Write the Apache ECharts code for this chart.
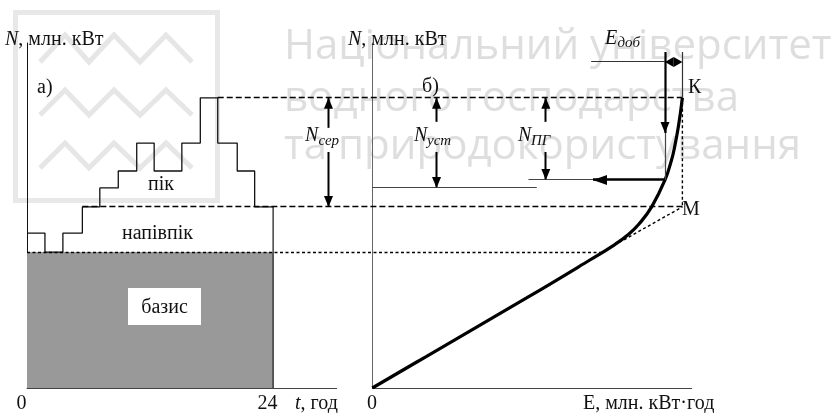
<!DOCTYPE html>
<html>
<head>
<meta charset="utf-8">
<script src="https://cdn.jsdelivr.net/npm/echarts@6/dist/echarts.min.js"></script>
<style>
html, body { margin: 0; padding: 0; background: #fff; }
#c { width: 839px; height: 413px; }
</style>
</head>
<body>
<div id="c"></div>
<script>
// ---- a) daily load schedule: interval boundaries (hours) and power in each interval
const loadHours  = [0, 1.75, 3.5, 5.4, 7.1, 8.9, 10.7, 12.4, 15.1, 16.9, 18.6, 20.5, 22.2, 24];
const loadLevels = [44.9, 39.4, 44.9, 52.5, 58.0, 62.9, 71.0, 62.9, 71.0, 84.1, 71.0, 62.9, 52.5];
const baseLevel = 39.4;      // top of the base zone
const halfPeakLevel = 52.5;  // top of the half-peak zone
const peakLevel = 84.1;      // daily maximum
const dayEnd = 24;
const hourTicks = ['0', '24'];

// ---- б) integral curve of the load: energy E versus power N
const curveE = [0, 17.5, 49.7, 70.1, 78.0, 82.5, 86.0, 90.0, 94.3, 96.4, 97.2, 98.6, 99.9];
const curveN = [0, 9.2, 26.1, 37.1, 41.5, 44.5, 47.6, 52.5, 60.3, 66.1, 69.0, 75.7, 84.1];
const tangentE = [78.0, 99.9];
const tangentN = [41.4, 52.5];
const energyTicks = ['0'];

// ---- capacities and energies marked on panel б)
const ustLevel = 58.0;     // N уст
const pgLevel = 60.3;      // N ПГ
const edobLevel = 94.5;    // height of the E доб dimension line
const guideTop = 97.4;     // upper end of the guide lines
const edobLineStartE = 70.5;
const pgLineStartE = 50.3;
const pgArrowTipE = 71.1;
const pgDownTipN = 73.9;
const ustLineEndE = 53.0;
const serAxisT = 29.4;     // position of the N сер dimension
const ustAxisE = 20.7;
const pgAxisE = 55.9;

const SERIF = '"Liberation Serif", "Times New Roman", serif';
const SANS = '"Open Sans", "DejaVu Sans", sans-serif';
const INK = '#000';
const FS = 20;   // main caption size
const SUB = 15;  // subscript size

function curveAt(n) {
  for (let i = 1; i < curveN.length; i++) {
    if (n <= curveN[i]) {
      const k = (n - curveN[i - 1]) / (curveN[i] - curveN[i - 1]);
      return curveE[i - 1] + k * (curveE[i] - curveE[i - 1]);
    }
  }
  return curveE[curveE.length - 1];
}

const stepData = loadLevels.map((v, i) => [loadHours[i], v]);
stepData.push([loadHours[loadHours.length - 1], loadLevels[loadLevels.length - 1]]);
const curveData = curveE.map((e, i) => [e, curveN[i]]);
const kE = curveE[curveE.length - 1];

const chart = echarts.init(document.getElementById('c'));

const hiddenAxisParts = {
  axisTick: { show: false }, axisLabel: { show: false }, splitLine: { show: false }
};

chart.setOption({
  animation: false,
  backgroundColor: '#fff',
  grid: [
    { left: 27, top: 43, width: 309.7, height: 345 },
    { left: 372.3, top: 43, width: 319.4, height: 345 }
  ],
  xAxis: [
    Object.assign({ type: 'value', gridIndex: 0, min: 0, max: 30.2,
      axisLine: { onZero: false, lineStyle: { color: '#444', width: 1 } } }, hiddenAxisParts),
    Object.assign({ type: 'value', gridIndex: 1, min: 0, max: 102.9,
      axisLine: { onZero: false, lineStyle: { color: '#444', width: 1 } } }, hiddenAxisParts)
  ],
  yAxis: [
    Object.assign({ type: 'value', gridIndex: 0, min: 0, max: 100,
      axisLine: { show: true, onZero: false, lineStyle: { color: '#111', width: 1 } } }, hiddenAxisParts),
    Object.assign({ type: 'value', gridIndex: 1, min: 0, max: 100,
      axisLine: { show: true, onZero: false, lineStyle: { color: '#666', width: 1 } } }, hiddenAxisParts)
  ],
  series: [
    { // base zone
      type: 'line', xAxisIndex: 0, yAxisIndex: 0, symbol: 'none', silent: true,
      data: [[0, baseLevel], [dayEnd, baseLevel]],
      lineStyle: { width: 0 },
      areaStyle: { color: '#999999', opacity: 1 }
    },
    { // end of the day
      type: 'line', xAxisIndex: 0, yAxisIndex: 0, symbol: 'none', silent: true,
      data: [[dayEnd, 0], [dayEnd, halfPeakLevel]],
      lineStyle: { color: '#222', width: 1.3 }
    },
    { // stepped load schedule
      type: 'line', step: 'end', xAxisIndex: 0, yAxisIndex: 0, symbol: 'none', silent: true,
      data: stepData,
      lineStyle: { color: '#111', width: 1.3 }
    },
    { // integral curve
      type: 'line', xAxisIndex: 1, yAxisIndex: 1, symbol: 'none', silent: true,
      data: curveData, smooth: 0.45,
      lineStyle: { color: '#000', width: 3.2 }, z: 5
    },
    { // straight continuation of the lower part of the curve up to M
      type: 'line', xAxisIndex: 1, yAxisIndex: 1, symbol: 'none', silent: true,
      data: tangentE.map((e, i) => [e, tangentN[i]]),
      lineStyle: { color: INK, width: 1.4, type: [3, 2.5] }
    },
    { // K - M
      type: 'line', xAxisIndex: 1, yAxisIndex: 1, symbol: 'none', silent: true,
      data: [[kE, peakLevel], [kE, halfPeakLevel]],
      lineStyle: { color: INK, width: 1.4, type: [3, 2.5] }
    }
  ]
});

const snap = v => Math.round(v - 0.5) + 0.5;
const L = (x, y) => chart.convertToPixel({ gridIndex: 0 }, [x, y]);
const R = (x, y) => chart.convertToPixel({ gridIndex: 1 }, [x, y]);
const els = [];

function line(a, b, st) {
  let [x1, y1] = a, [x2, y2] = b;
  if (Math.abs(y1 - y2) < 0.01) { y1 = y2 = snap(y1); }
  if (Math.abs(x1 - x2) < 0.01) { x1 = x2 = snap(x1); }
  els.push({ type: 'line', z: 50, silent: true,
    shape: { x1, y1, x2, y2 },
    style: Object.assign({ stroke: INK, lineWidth: 1 }, st || {}) });
}
function head(tip, from, len, w) {
  const dx = tip[0] - from[0], dy = tip[1] - from[1];
  const d = Math.hypot(dx, dy), ux = dx / d, uy = dy / d;
  const bx = tip[0] - ux * len, by = tip[1] - uy * len;
  els.push({ type: 'polygon', z: 51, silent: true,
    shape: { points: [tip, [bx - uy * w / 2, by + ux * w / 2], [bx + uy * w / 2, by - ux * w / 2]] },
    style: { fill: INK } });
}
function arrow(from, tip, lw, len, w) {
  line(from, tip, { lineWidth: lw });
  head(tip, from, len || 11, w || 9);
}
function txt(str, x, baseline, size, opt) {
  opt = opt || {};
  els.push({ type: 'text', z: 60, silent: true, x: x, y: baseline - 0.27 * size,
    style: { text: str, font: (opt.italic ? 'italic ' : '') + size + 'px ' + SERIF,
      fill: '#111', align: opt.align || 'left', verticalAlign: 'middle', rich: opt.rich } });
}

// watermark: logo frame with zigzags and the university name
els.push({ type: 'rect', z: -10, silent: true, shape: { x: 15.5, y: 12.5, width: 202, height: 188 },
  style: { fill: 'none', stroke: '#e8e8e8', lineWidth: 5 } });
[[35, 62], [90, 115], [143, 168]].forEach(([top, bot]) => {
  const xs = [40, 65, 89, 114, 140, 166, 192];
  els.push({ type: 'polyline', z: -10, silent: true,
    shape: { points: xs.map((x, i) => [x, i % 2 ? top : bot]) },
    style: { stroke: '#e6e6e6', lineWidth: 5, fill: 'none' } });
});
['Національний університет', 'водного господарства', 'та природокористування'].forEach((s, i) => {
  els.push({ type: 'text', z: -10, silent: true, x: 284, y: [62, 114, 162][i] - 15,
    style: { text: s, font: '42px ' + SANS, fill: '#dedede', align: 'left', verticalAlign: 'middle' } });
});

// long dashed levels reaching across both panels
line(L(loadHours[10], peakLevel), R(kE, peakLevel), { lineDash: [6, 3], lineWidth: 1.6 });
line(L(loadHours[3], halfPeakLevel), R(kE, halfPeakLevel), { lineDash: [6, 3], lineWidth: 1.6 });
line(L(0, baseLevel), R(curveAt(baseLevel), baseLevel), { lineDash: [3, 2.5], lineWidth: 1.5 });

// N сер
{
  const top = L(serAxisT, peakLevel), bot = L(serAxisT, halfPeakLevel);
  arrow([top[0], top[1] + 30], top, 2);
  arrow([bot[0], 152], bot, 2);
}
// N уст
{
  const top = R(ustAxisE, peakLevel), bot = R(ustAxisE, ustLevel);
  arrow([top[0], top[1] + 24], top, 2);
  arrow([bot[0], 152], bot, 2);
  line(R(0, ustLevel), R(ustLineEndE, ustLevel), { stroke: '#444', lineWidth: 1.2 });
}
// N ПГ
{
  const top = R(pgAxisE, peakLevel), bot = R(pgAxisE, pgLevel);
  arrow([top[0], top[1] + 24], top, 2);
  arrow([bot[0], 152], bot, 2);
  const eCurve = curveAt(pgLevel);
  line(R(pgLineStartE, pgLevel), R(pgArrowTipE, pgLevel), { stroke: '#444', lineWidth: 1.2 });
  arrow(R(eCurve, pgLevel), R(pgArrowTipE, pgLevel), 2.4, 14, 10);
  // energy transferred down from E доб
  arrow(R(eCurve, guideTop), R(eCurve, pgDownTipN), 2.2, 11, 9);
  line(R(eCurve, pgDownTipN), R(eCurve, pgLevel), { stroke: '#444', lineWidth: 1.2 });
  // E доб dimension
  line(R(edobLineStartE, edobLevel), R(eCurve, edobLevel), { stroke: '#333', lineWidth: 1.2 });
  line(R(kE, guideTop), R(kE, peakLevel), { stroke: '#333', lineWidth: 1.2 });
  const a = R(eCurve, edobLevel), b = R(kE, edobLevel), mid = [(a[0] + b[0]) / 2, a[1]];
  head(a, mid, (b[0] - a[0]) / 2, 10);
  head(b, mid, (b[0] - a[0]) / 2, 10);
}

// base zone caption box
els.push({ type: 'rect', z: 55, silent: true, shape: { x: 128, y: 288, width: 73, height: 37 },
  style: { fill: '#fff' } });

// texts
const rich = { i: { fontStyle: 'italic', fontFamily: SERIF, fontSize: FS } };
txt('{i|N}, млн. кВт', 5, 45, FS, { rich });
txt('{i|N}, млн. кВт', 348, 45, FS, { rich });
txt('а)', 37, 93, FS);
txt('б)', 422, 92, FS);
txt('пік', 148, 190, FS);
txt('напівпік', 122, 239, FS);
txt('базис', 164.5, 313, FS, { align: 'center' });
txt(hourTicks[0], 21.5, 409, FS, { align: 'center' });
txt(hourTicks[1], 267.5, 409, FS, { align: 'center' });
txt('{i|t}, год', 295, 409, FS, { rich });
txt(energyTicks[0], 372, 409, FS, { align: 'center' });
txt('E, млн. кВт·год', 583, 409, FS);
txt('К', 688, 93, FS);
txt('М', 682, 215, FS);
txt('N', 305, 141, FS, { italic: true });
txt('сер', 318.5, 145, SUB, { italic: true });
txt('N', 414, 141, FS, { italic: true });
txt('уст', 427, 145, SUB, { italic: true });
txt('N', 518, 141, FS, { italic: true });
txt('ПГ', 531, 145, SUB, { italic: true });
txt('E', 605, 44, FS, { italic: true });
txt('доб', 617.5, 47.5, SUB, { italic: true });

chart.setOption({ graphic: { elements: els } });
</script>
</body>
</html>
